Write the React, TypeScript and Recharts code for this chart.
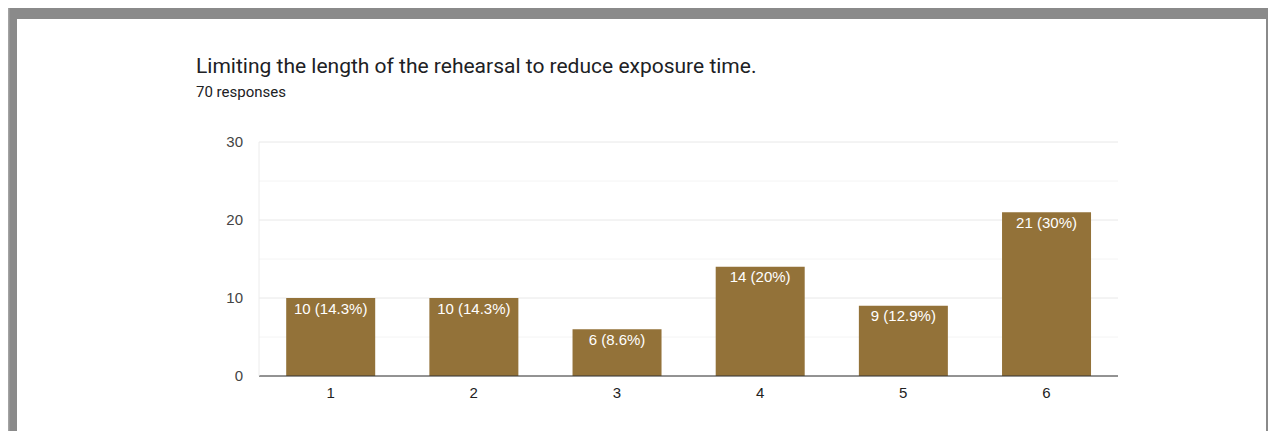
import { BarChart, Bar, XAxis, YAxis, CartesianGrid, LabelList } from 'recharts';

const categories = ['1', '2', '3', '4', '5', '6'];
const counts = [10, 10, 6, 14, 9, 21];
const percents = ['14.3%', '14.3%', '8.6%', '20%', '12.9%', '30%'];
const yTicks = [0, 10, 20, 30];
const minorTicks = [5, 15, 25];

const data = categories.map((c, i) => ({
  name: c,
  count: counts[i],
  label: `${counts[i]} (${percents[i]})`,
}));

const axisFont = 'Arial, "Liberation Sans", sans-serif';

export default function App() {
  return (
    <div style={{ margin: -8, width: 1276, height: 439, position: 'relative', background: '#f1f1f1', overflow: 'hidden' }}>
      {/* photo frame */}
      <div
        style={{
          position: 'absolute',
          left: 0,
          top: 8,
          width: 17,
          height: 431,
          background: 'linear-gradient(to right, #e6e6e6, #c8c8c8 35%, #8a8a8a 60%, #7a7a7a)',
        }}
      />
      <div
        style={{
          position: 'absolute',
          left: 10,
          top: 8,
          width: 1266,
          height: 431,
          background: '#8a8a8a',
        }}
      />
      <div
        style={{
          position: 'absolute',
          left: 17,
          top: 19,
          width: 1249,
          height: 417,
          background: '#ffffff',
        }}
      />
      <div style={{ position: 'absolute', left: 17, top: 436, width: 1259, height: 3, background: '#444444' }} />

      <div
        style={{
          position: 'absolute',
          left: 196,
          top: 54,
          fontFamily: 'Roboto, "Open Sans", sans-serif',
          fontSize: 21,
          color: '#202124',
          whiteSpace: 'nowrap',
        }}
      >
        Limiting the length of the rehearsal to reduce exposure time.
      </div>
      <div
        style={{
          position: 'absolute',
          left: 196,
          top: 83,
          fontFamily: 'Roboto, sans-serif',
          fontSize: 15,
          color: '#202124',
        }}
      >
        70 responses
      </div>

      <div style={{ position: 'absolute', left: 180, top: 120 }}>
        <BarChart
          width={1000}
          height={300}
          data={data}
          margin={{ top: 22, right: 62, left: 0, bottom: 14 }}
          barCategoryGap="19%"
        >
          <CartesianGrid yAxisId="left" vertical={false} horizontalValues={minorTicks} stroke="#f4f4f4" />
          <CartesianGrid yAxisId="left" vertical={false} horizontalValues={yTicks} stroke="#e8e8e8" />
          <XAxis
            dataKey="name"
            height={30}
            stroke="#333333"
            tickLine={false}
            tickSize={0}
            tickMargin={11}
            tick={{ fill: '#222222', fontSize: 15, fontFamily: axisFont }}
          />
          <YAxis
            yAxisId="left"
            domain={[0, 30]}
            ticks={yTicks}
            width={79}
            axisLine={{ stroke: '#ececec' }}
            tickLine={false}
            tickSize={0}
            tickMargin={16}
            tick={{ fill: '#444444', fontSize: 15, fontFamily: axisFont }}
          />
          <YAxis
            yAxisId="right"
            orientation="right"
            domain={[0, 30]}
            width={0}
            tick={false}
            tickLine={false}
            axisLine={{ stroke: '#ececec' }}
          />
          <Bar yAxisId="left" dataKey="count" fill="#937239" isAnimationActive={false}>
            <LabelList
              dataKey="label"
              position="insideTop"
              offset={5}
              fill="#ffffff"
              fontSize={15}
              fontFamily={axisFont}
            />
          </Bar>
        </BarChart>
      </div>
    </div>
  );
}
